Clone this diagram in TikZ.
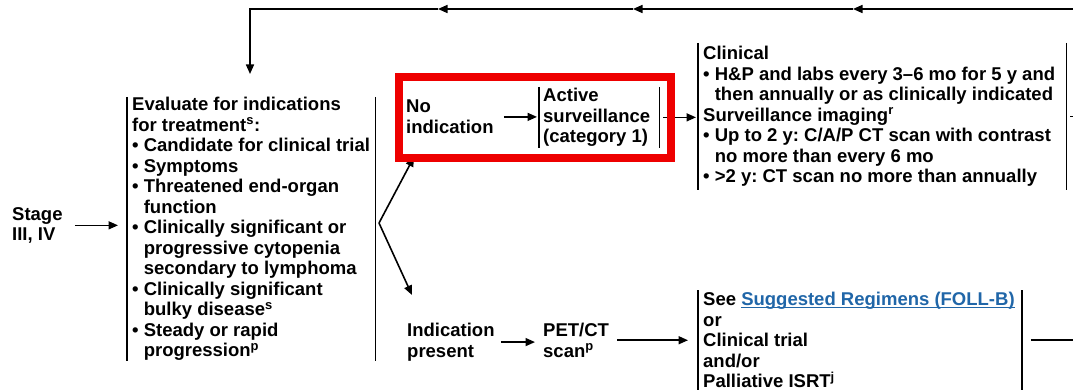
\documentclass[tikz,border=0pt]{standalone}
\usepackage{fontspec}
\setmainfont{Liberation Sans}
\usetikzlibrary{arrows.meta,positioning}
\definecolor{link blue}{RGB}{32,102,168}
\definecolor{mark red}{RGB}{238,0,0}
\def\ind{\phantom{\textbullet\ }}
\def\linkline#1{\setbox0\hbox{#1}\rlap{\rule[-2.4pt]{\wd0}{1.4pt}}\box0}
\tikzset{
  txt/.style={anchor=north west, align=left, inner xsep=4pt, inner ysep=1pt,
    font=\fontsize{18.5}{20.5}\selectfont\bfseries\frenchspacing},
  bracketed/.style={txt, inner xsep=5pt}
  }
\tikzstyle{edge} = [draw, line width=1.6pt, -{Triangle[length=9.5pt,width=8pt]}]
\tikzstyle{line} = [draw, line width=1.6pt, -]
\tikzstyle{bar} = [draw, line width=1.3pt]
\tikzstyle{highlight} = [draw=mark red, line width=8pt]

\begin{document}
\begin{tikzpicture}[x=1pt,y=-1pt]
    \useasboundingbox (0,0) rectangle (1073,390);

    % text blocks
    \node[txt] (stage) at (8,206) {Stage\\III, IV};
    \node[bracketed, inner ysep=0pt] (eval) at (127,97) {Evaluate for indications\\for treatment\textsuperscript{s}:\\
      \textbullet\ Candidate for clinical trial\\\textbullet\ Symptoms\\
      \textbullet\ Threatened end-organ\\\ind function\\
      \textbullet\ Clinically significant or\\\ind progressive cytopenia\\\ind secondary to lymphoma\\
      \textbullet\ Clinically significant\\\ind bulky disease\textsuperscript{s}\\
      \textbullet\ Steady or rapid\\\ind progression\textsuperscript{p}};
    \node[txt] (noind) at (402,99) {No\\indication};
    \node[bracketed, inner xsep=4pt] (active) at (539,87) {Active\\surveillance\\(category 1)};
    \node[bracketed, inner ysep=3pt] (clin) at (698,43) {Clinical\\
      \textbullet\ H\&P and labs every 3--6 mo for 5 y and\\\ind then annually or as clinically indicated\\
      Surveillance imaging\textsuperscript{r}\\
      \textbullet\ Up to 2 y: C/A/P CT scan with contrast\\\ind no more than every 6 mo\\
      \textbullet\ >2 y: CT scan no more than annually};
    \node[txt] (indic) at (403,322) {Indication\\present};
    \node[txt] (pet) at (539,322) {PET/CT\\scan\textsuperscript{p}};
    \node[bracketed, inner ysep=2pt] (regim) at (698,290) {See \textcolor{link blue}{\linkline{Suggested Regimens (FOLL-B)}}\\
      or\\Clinical trial\\and/or\\Palliative ISRT\textsuperscript{j}};

    % side bars, the right one a little off the text
    \foreach \n/\gap in {eval/0pt, active/5pt, clin/6pt, regim/2pt}
      \path[bar] (\n.north west) -- (\n.south west)
        ([xshift=\gap]\n.north east) -- ([xshift=\gap]\n.south east);

    % return path along the top
    \foreach \name/\x in {fb0/1073, fb1/853, fb2/633, fb3/438, fb4/250}
      \coordinate (\name) at (\x,9);
    \coordinate (fbend) at (250,74);
    \foreach \source/\sink in {fb0/fb1, fb1/fb2, fb2/fb3}
      \path[edge] (\source) -- (\sink);
    \path[edge] (fb3) -- (fb4) -- (fbend);

    % main flow
    \path[edge, shorten <=8pt, shorten >=9pt] (stage.east) -- (stage.east -| eval.west);
    \coordinate (split) at (379,223);
    \coordinate (upend) at (414,157);
    \coordinate (downend) at (412,295);
    \path[edge] (split) -- (upend);
    \path[edge] (split) -- (downend);
    \path[edge, shorten <=6pt, shorten >=2pt] (noind.east) -- (noind.east -| active.west);
    \path[edge, shorten <=9pt, shorten >=2pt] (active.east) -- (active.east -| clin.west);
    \path[line, shorten <=10pt] (clin.east) -- (clin.east -| fb0);
    \path[edge, shorten <=2pt, shorten >=4pt] (indic.east) -- (indic.east -| pet.west);
    \path[edge, shorten <=4pt, shorten >=10pt] (pet.east) -- (pet.east -| regim.west);
    \path[line, shorten <=11pt] (regim.east) -- (regim.east -| fb0);

    % marked part of the chart
    \draw[highlight] (399,77) rectangle (671,158);
\end{tikzpicture}
\end{document}
